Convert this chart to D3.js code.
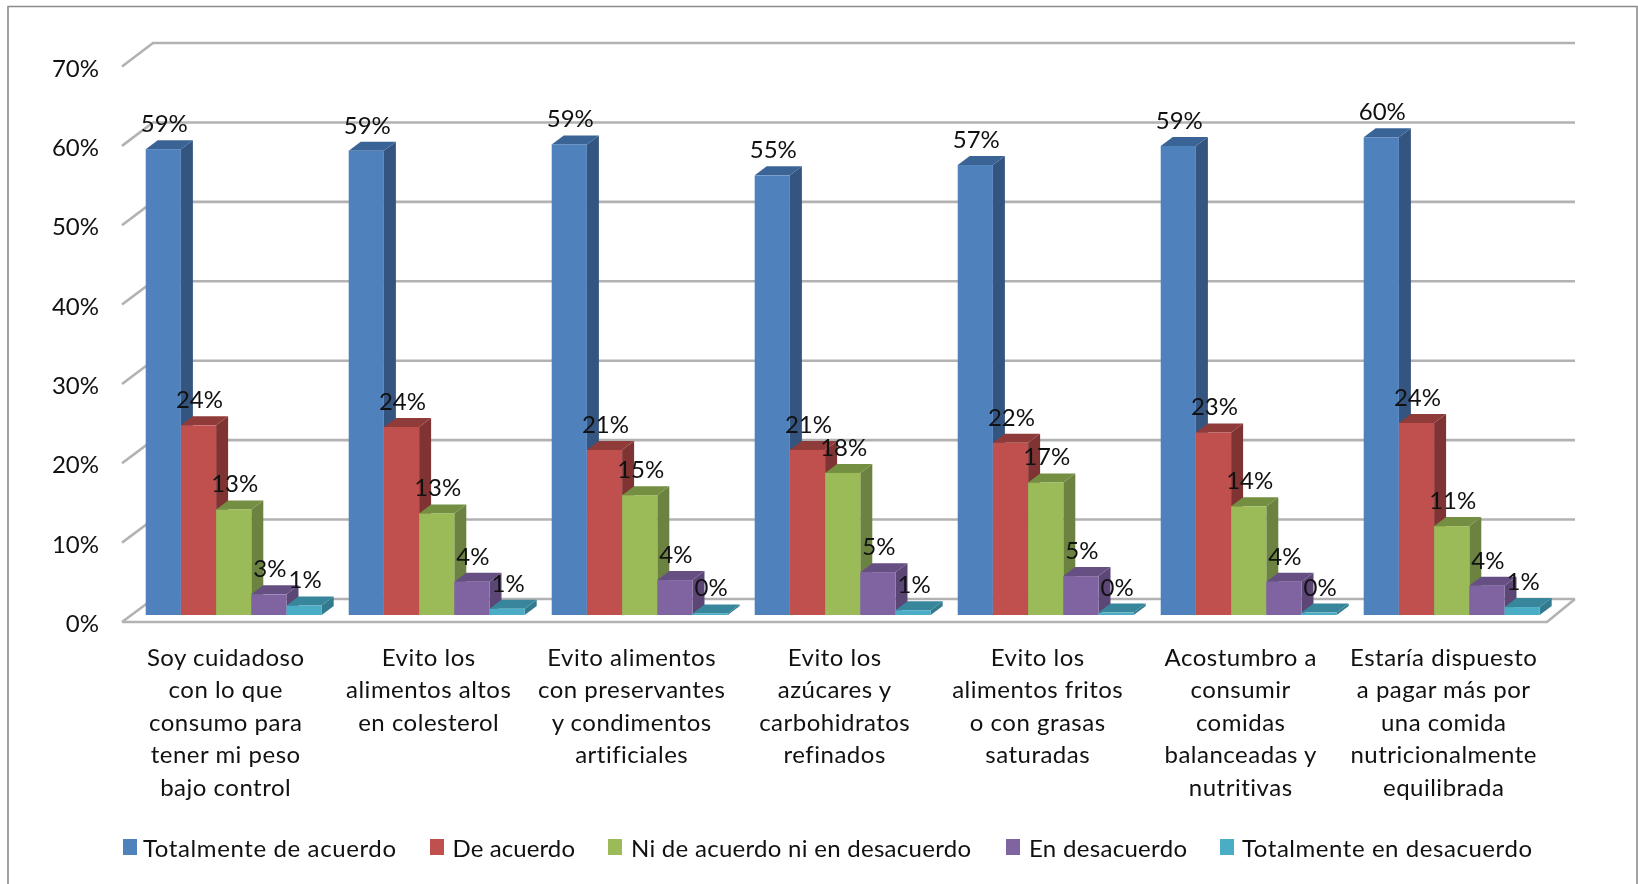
<!DOCTYPE html>
<html>
<head>
<meta charset="utf-8">
<script src="https://cdn.jsdelivr.net/npm/d3@7"></script>
<style>
  html, body { margin: 0; padding: 0; background: #fff; overflow: hidden; }
  svg text { font-family: Lato, "Open Sans", sans-serif; fill: #111; font-variant-ligatures: none; }
  .cat { letter-spacing: 0.5px; }
</style>
</head>
<body>
<svg id="chart" width="1638" height="884"></svg>
<script>
const categories = [
  ['Soy cuidadoso', 'con lo que', 'consumo para', 'tener mi peso', 'bajo control'],
  ['Evito los', 'alimentos altos', 'en colesterol'],
  ['Evito alimentos', 'con preservantes', 'y condimentos', 'artificiales'],
  ['Evito los', 'azúcares y', 'carbohidratos', 'refinados'],
  ['Evito los', 'alimentos fritos', 'o con grasas', 'saturadas'],
  ['Acostumbro a', 'consumir', 'comidas', 'balanceadas y', 'nutritivas'],
  ['Estaría dispuesto', 'a pagar más por', 'una comida', 'nutricionalmente', 'equilibrada']
];
const seriesNames = ['Totalmente de acuerdo', 'De acuerdo', 'Ni de acuerdo ni en desacuerdo', 'En desacuerdo', 'Totalmente en desacuerdo'];
const totalmenteDeAcuerdo = [0.587, 0.585, 0.593, 0.554, 0.567, 0.591, 0.602];
const deAcuerdo = [0.239, 0.237, 0.208, 0.208, 0.217, 0.230, 0.242];
const niDeAcuerdo = [0.133, 0.128, 0.151, 0.179, 0.167, 0.137, 0.112];
const enDesacuerdo = [0.026, 0.042, 0.044, 0.054, 0.049, 0.042, 0.037];
const totalmenteEnDesacuerdo = [0.012, 0.008, 0.002, 0.006, 0.003, 0.003, 0.010];
const yTicks = [0, 0.1, 0.2, 0.3, 0.4, 0.5, 0.6, 0.7];

const seriesValues = [totalmenteDeAcuerdo, deAcuerdo, niDeAcuerdo, enDesacuerdo, totalmenteEnDesacuerdo];
const front = ['#4f81bd', '#c0504d', '#9bbb59', '#8064a2', '#4bacc6'];
const side = ['#34557f', '#7f3433', '#6b8240', '#5b4675', '#327a8d'];
const top_ = ['#3b6496', '#8f3b39', '#748f42', '#664f82', '#38869b'];

const svg = d3.select('#chart');
const pct = d3.format('.0%');

// chart border, open at the bottom like the source image
svg.append('path')
  .attr('d', 'M8,884V6.5H1637V884')
  .attr('fill', 'none')
  .attr('stroke', '#8c8c8c')
  .attr('stroke-width', 1.6);

const plot = svg.append('g').style('filter', 'blur(0.45px)');

// y scales: floor front edge, back wall, and the plane the bars stand on
const yFront = d3.scaleLinear().domain([0, 0.7]).range([622, 66.5]);
const yBack = d3.scaleLinear().domain([0, 0.7]).range([599, 43]);
const yBar = d3.scaleLinear().domain([0, 0.7]).range([615, 59.5]);

const xGroup = d3.scaleBand().domain(d3.range(categories.length)).range([145.7, 1539.7]).paddingInner(0.133).paddingOuter(0);
const xBar = d3.scaleBand().domain(d3.range(seriesNames.length)).range([0, xGroup.bandwidth()]);

const backX0 = 153, backX1 = 1575, frontX0 = 122, frontX1 = 1547;
const depthX = 12, depthY = 9;

// gridlines
const grid = plot.append('g').attr('fill', 'none').attr('stroke', '#b2b2b2').attr('stroke-width', 2.6);
grid.selectAll('path.g').data(yTicks).enter().append('path')
  .attr('class', 'g')
  .attr('d', d => `M${frontX0},${yFront(d)}L${backX0},${yBack(d)}H${backX1}`);
grid.append('path')
  .attr('d', `M${frontX0},${yFront(0)}H${frontX1}L${backX1},${yBack(0)}`);

// bars
categories.forEach((c, i) => {
  const g = plot.append('g').attr('transform', `translate(${xGroup(i)},0)`);
  seriesValues.forEach((vals, s) => {
    const x0 = xBar(s), w = xBar.bandwidth(), yt = yBar(vals[i]), yb = yBar(0);
    g.append('path').attr('fill', side[s])
      .attr('d', `M${x0 + w},${yt}l${depthX},${-depthY}V${yb - depthY}L${x0 + w},${yb}Z`);
    g.append('path').attr('fill', top_[s])
      .attr('d', `M${x0},${yt}l${depthX},${-depthY}h${w}l${-depthX},${depthY}Z`);
    g.append('rect').attr('fill', front[s])
      .attr('x', x0).attr('y', yt).attr('width', w).attr('height', yb - yt);
  });
});

// data labels go on top of every bar
categories.forEach((c, i) => {
  seriesValues.forEach((vals, s) => {
    plot.append('text')
      .attr('x', xGroup(i) + xBar(s) + xBar.bandwidth() / 2 + 1)
      .attr('y', yBar(vals[i]) - 17)
      .attr('text-anchor', 'middle')
      .attr('font-size', 24)
      .text(pct(vals[i]));
  });
});

// y axis labels
const yAxis = plot.append('g')
  .attr('transform', 'translate(99,2)')
  .call(d3.axisLeft(yFront).tickValues(yTicks).tickFormat(pct).tickSize(0).tickPadding(0));
yAxis.select('.domain').remove();
yAxis.selectAll('text').attr('font-size', 24).attr('fill', '#111').attr('font-family', null);

// category labels
categories.forEach((lines, i) => {
  const t = plot.append('text')
    .attr('class', 'cat')
    .attr('text-anchor', 'middle')
    .attr('font-size', 24);
  lines.forEach((l, k) => {
    t.append('tspan')
      .attr('x', xGroup(i) + xGroup.bandwidth() / 2 - 8)
      .attr('y', 666 + k * 32.4)
      .text(l);
  });
});

// legend
const legendX = [123, 430, 608, 1006, 1220];
const legendTextX = [143, 452.5, 631, 1029, 1242];
const legendTextW = [253, 122.5, 340, 158, 290];
const legend = plot.append('g');
seriesNames.forEach((n, s) => {
  legend.append('rect').attr('x', legendX[s]).attr('y', 839).attr('width', 14).attr('height', 16).attr('fill', front[s]);
  legend.append('text')
    .attr('x', legendTextX[s]).attr('y', 857)
    .attr('font-size', 24)
    .attr('textLength', legendTextW[s]).attr('lengthAdjust', 'spacing')
    .text(n);
});
</script>
</body>
</html>
